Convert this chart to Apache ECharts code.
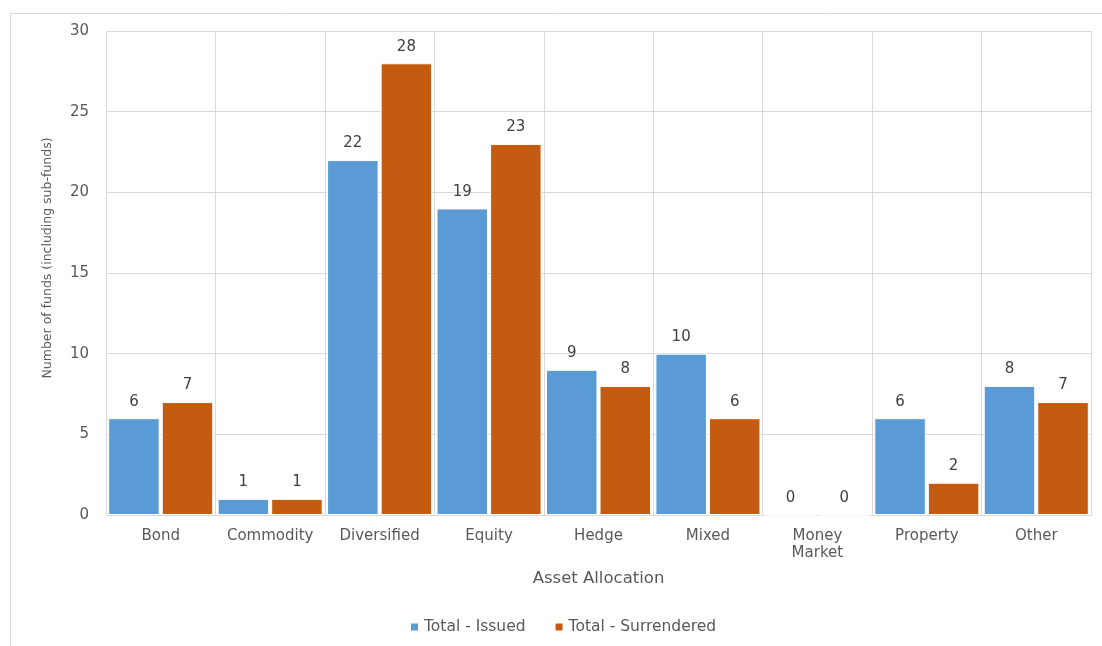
<!DOCTYPE html>
<html><head><meta charset="utf-8">
<script src="https://cdn.jsdelivr.net/npm/echarts@6/dist/echarts.min.js"></script>
<style>html,body{margin:0;padding:0;background:#fff}#c{width:1102px;height:646px}</style>
</head><body><div id="c"></div>
<script>
const categories = ['Bond','Commodity','Diversified','Equity','Hedge','Mixed','Money\nMarket','Property','Other'];
const issued = [6,1,22,19,9,10,0,6,8];
const surrendered = [7,1,28,23,8,6,0,2,7];
const seriesNames = ['Total - Issued','Total - Surrendered'];
const yTicks = {min:0,max:30,interval:5};

const font = 'DejaVu Sans';
const txt = '#595959';
const chart = echarts.init(document.getElementById('c'));
chart.setOption({
  animation:false,
  textStyle:{fontFamily:font},
  graphic:[{type:'rect',shape:{x:10.5,y:13.5,width:1200,height:800},style:{fill:'none',stroke:'#d9d9d9',lineWidth:1},silent:true,z:-1}],
  grid:{left:106,right:11,top:31,bottom:131,containLabel:false},
  legend:{bottom:6,left:404,itemWidth:9,itemHeight:9,itemGap:28,icon:'rect',
    textStyle:{color:txt,fontSize:15.5,fontFamily:font},data:seriesNames},
  xAxis:{type:'category',data:categories,
    name:'Asset Allocation',nameLocation:'middle',nameGap:55,
    nameTextStyle:{color:txt,fontSize:16.5,fontFamily:font},
    axisLine:{lineStyle:{color:'#d9d9d9'}},axisTick:{show:false},
    axisLabel:{color:txt,fontSize:15,margin:13,interval:0,lineHeight:17},
    splitLine:{show:true,interval:0,lineStyle:{color:'#d9d9d9'}}},
  yAxis:{type:'value',min:yTicks.min,max:yTicks.max,interval:yTicks.interval,
    name:'Number of funds (including sub-funds)',nameLocation:'middle',nameGap:52,
    nameTextStyle:{color:txt,fontSize:12.5,fontFamily:font,padding:[0,0,0,30]},
    axisLine:{show:false},axisTick:{show:false},
    axisLabel:{color:txt,fontSize:15,margin:17},
    splitLine:{lineStyle:{color:'#d9d9d9'}}},
  series:[
    {name:seriesNames[0],type:'bar',data:issued,barGap:'4%',barCategoryGap:'4%',
     itemStyle:{color:'#5B9BD5',borderColor:'#fff',borderWidth:1},
     label:{show:true,position:'top',distance:9,color:'#404040',fontSize:15}},
    {name:seriesNames[1],type:'bar',data:surrendered,
     itemStyle:{color:'#C55A11',borderColor:'#fff',borderWidth:1},
     label:{show:true,position:'top',distance:9,color:'#404040',fontSize:15}}
  ]
});
</script></body></html>
